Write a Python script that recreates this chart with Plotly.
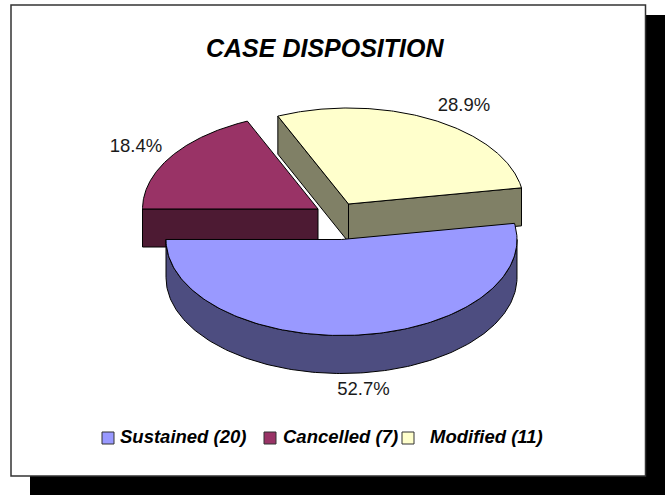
import numpy as np
import plotly.graph_objects as go

categories = ["Sustained (20)", "Cancelled (7)", "Modified (11)"]
percents = [52.7, 18.4, 28.9]
pct_labels = ["52.7%", "18.4%", "28.9%"]
top_colors = ["#9999FF", "#993366", "#FFFFCC"]
side_colors = ["#4D4D80", "#4D1A33", "#808066"]
title_text = "CASE DISPOSITION"

W, H = 665, 495
RX, RY, DEPTH = 175.5, 96, 38
START = 9.7  # first slice starts just above the right end and runs clockwise
centres = {"Sustained (20)": (341.5, 239.5), "Cancelled (7)": (318, 209), "Modified (11)": (348.5, 204)}

# slice angle ranges from the values (clockwise, so angles fall)
spans = {}
a = START
for c, p in zip(categories, percents):
    spans[c] = (a, a - p * 3.6)
    a -= p * 3.6


def rim(cx, cy, a0, a1, dz=0):
    t = np.radians(np.linspace(a0, a1, 160))
    return cx + RX * np.cos(t), cy - RY * np.sin(t) + dz


def end_point(cx, cy, ang):
    t = np.radians(ang)
    return cx + RX * np.cos(t), cy - RY * np.sin(t)


fig = go.Figure()


def poly(xs, ys, fill, lw=1):
    fig.add_trace(go.Scatter(x=list(xs), y=list(ys), mode="lines", fill="toself", fillcolor=fill,
                             line=dict(color="#000000", width=lw), hoverinfo="skip", showlegend=False))


def quad(p, q, fill):
    poly([p[0], q[0], q[0], p[0], p[0]], [p[1], q[1], q[1] + DEPTH, p[1] + DEPTH, p[1]], fill)


# Modified slice (back right)
i = 2
cx, cy = centres[categories[i]]
a0, a1 = spans[categories[i]]
quad((cx, cy), end_point(cx, cy, a0), side_colors[i])
quad((cx, cy), end_point(cx, cy, a1), side_colors[i])
x, y = rim(cx, cy, a0, a1)
poly(np.r_[cx, x, cx], np.r_[cy, y, cy], top_colors[i])

# Cancelled slice (back left)
i = 1
cx, cy = centres[categories[i]]
a0, a1 = spans[categories[i]]
quad((cx, cy), end_point(cx, cy, a1 + (180 - a1)), side_colors[i])
x, y = rim(cx, cy, a0, a1)
poly(np.r_[cx, x, cx], np.r_[cy, y, cy], top_colors[i])

# Sustained slice (front)
i = 0
cx, cy = centres[categories[i]]
a0, a1 = spans[categories[i]]
xu, yu = rim(cx, cy, 0, a1)
xl, yl = rim(cx, cy, 0, a1, DEPTH)
poly(np.r_[xu, xl[::-1], xu[0]], np.r_[yu, yl[::-1], yu[0]], side_colors[i])
x, y = rim(cx, cy, a0, a1)
poly(np.r_[cx, x, cx], np.r_[cy, y, cy], top_colors[i])

# percentage labels
fig.add_trace(go.Scatter(x=[363.5, 136, 464], y=[390, 147, 106], mode="text", text=pct_labels,
                         textposition="middle center", hoverinfo="skip", showlegend=False,
                         textfont=dict(family="Liberation Sans", size=18.5, color="#1A1A1A")))

# legend
swatch_x = [108, 270, 408]
label_x = [120, 283, 430]
fig.add_trace(go.Scatter(x=swatch_x, y=[438] * 3, mode="markers", hoverinfo="skip", showlegend=False,
                         marker=dict(symbol="square", size=12, color=top_colors,
                                     line=dict(color="#333333", width=1))))
fig.add_trace(go.Scatter(x=label_x, y=[438] * 3, mode="text", text=["<b><i>%s</i></b>" % c for c in categories],
                         textposition="middle right", hoverinfo="skip", showlegend=False,
                         textfont=dict(family="Liberation Sans", size=18.5, color="#000000")))

fig.add_annotation(x=324.5, y=47.5, xref="x", yref="y", text="<b><i>%s</i></b>" % title_text, showarrow=False,
                   font=dict(family="Liberation Sans", size=25, color="#000000"))

fig.update_layout(
    width=W, height=H, margin=dict(l=0, r=0, t=0, b=0), paper_bgcolor="#FFFFFF", plot_bgcolor="#FFFFFF",
    showlegend=False,
    xaxis=dict(range=[0, W], visible=False, fixedrange=True),
    yaxis=dict(range=[H, 0], visible=False, fixedrange=True),
    shapes=[
        dict(type="rect", layer="below", x0=30, x1=W, y0=15, y1=H, fillcolor="#000000", line=dict(width=0)),
        dict(type="rect", layer="below", x0=11, x1=645.5, y0=5, y1=476, fillcolor="#FFFFFF",
             line=dict(color="#333333", width=1.5)),
    ],
)
fig.write_html("out.html", config={"displayModeBar": False},
               post_script="document.body.style.margin='0';document.body.style.overflow='hidden';")
